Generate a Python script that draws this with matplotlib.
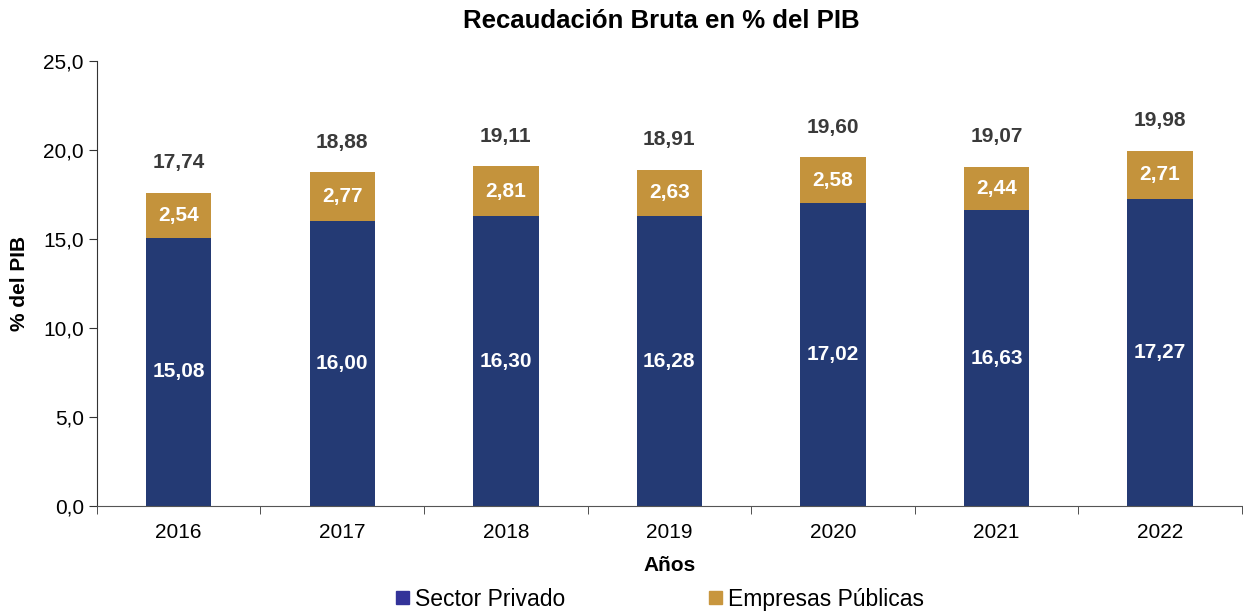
import numpy as np
import matplotlib.pyplot as plt
from matplotlib.patches import Patch

plt.rcParams['font.family'] = ['Liberation Sans', 'DejaVu Sans']

years = ['2016', '2017', '2018', '2019', '2020', '2021', '2022']
privado = [15.08, 16.00, 16.30, 16.28, 17.02, 16.63, 17.27]
publicas = [2.54, 2.77, 2.81, 2.63, 2.58, 2.44, 2.71]
totales = ['17,74', '18,88', '19,11', '18,91', '19,60', '19,07', '19,98']

c_priv = '#243a74'
c_pub = '#c4933c'

fig = plt.figure(figsize=(12.43, 6.12), dpi=100)
ax = fig.add_axes([0.078, 0.173, 0.921, 0.727])

x = np.arange(len(years))
w = 0.4
ax.bar(x, privado, w, color=c_priv)
ax.bar(x, publicas, w, bottom=privado, color=c_pub)

for i in range(len(years)):
    ax.text(x[i], privado[i] / 2, ('%.2f' % privado[i]).replace('.', ','),
            ha='center', va='center', color='white', fontsize=15, fontweight='bold')
    ax.text(x[i], privado[i] + publicas[i] / 2, ('%.2f' % publicas[i]).replace('.', ','),
            ha='center', va='center', color='white', fontsize=15, fontweight='bold')
    ax.annotate(totales[i], (x[i], privado[i] + publicas[i]), xytext=(0, 30),
                textcoords='offset pixels', ha='center', va='center',
                color='#3a3a3a', fontsize=15, fontweight='bold')

ax.set_xlim(-0.5, len(years) - 0.5)
ax.set_ylim(0, 25)
ax.set_yticks(np.arange(0, 25.1, 5))
ax.set_yticklabels([('%.1f' % v).replace('.', ',') for v in np.arange(0, 25.1, 5)])
ax.set_xticks(x)
ax.set_xticklabels(years)
ax.set_xticks(np.arange(-0.5, len(years), 1), minor=True)
ax.tick_params(axis='x', which='major', length=0, pad=12, labelsize=15)
ax.tick_params(axis='x', which='minor', length=6, direction='out', color='#333333')
ax.tick_params(axis='y', length=6, direction='out', labelsize=15, color='#333333')
for s in ['top', 'right']:
    ax.spines[s].set_visible(False)
ax.spines['left'].set_color('#333333')
ax.spines['bottom'].set_color('#555555')

ax.set_xlabel('Años', fontsize=15, fontweight='bold', labelpad=10)
ax.set_ylabel('% del PIB', fontsize=15, fontweight='bold', labelpad=10)
fig.text(0.532, 0.965, 'Recaudación Bruta en % del PIB', ha='center', va='center',
         fontsize=18.5, fontweight='bold')

handles = [Patch(color='#333399'), Patch(color='#c8963e')]
fig.legend(handles, ['Sector Privado', 'Empresas Públicas'], loc='center',
           bbox_to_anchor=(0.531, 0.021), ncol=2, frameon=False, fontsize=16.5,
           handlelength=0.55, handleheight=0.55, handletextpad=0.25, columnspacing=6.3)

fig.savefig('out.png', dpi=100)
